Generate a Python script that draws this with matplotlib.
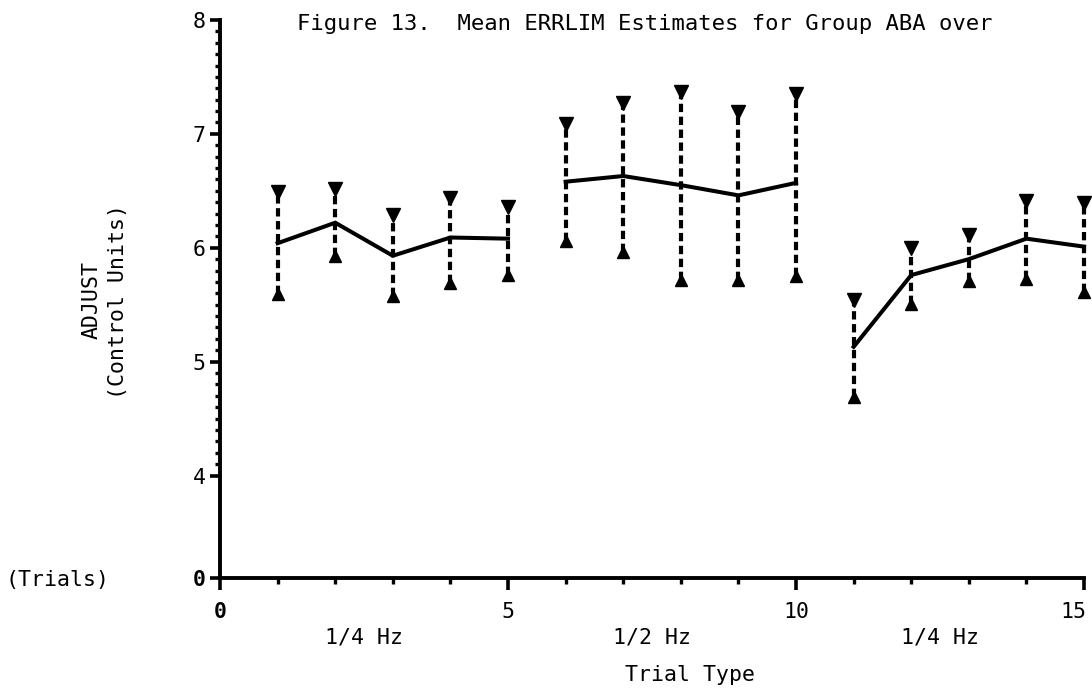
import numpy as np
import matplotlib
matplotlib.use("Agg")
import matplotlib.pyplot as plt
import matplotlib.transforms as mtransforms

# Mean ADJUST estimates per trial, with upper / lower limits of each bar
trials = np.arange(1, 16)
means = [6.04, 6.22, 5.93, 6.09, 6.08,
         6.58, 6.63, 6.55, 6.46, 6.57,
         5.13, 5.76, 5.90, 6.08, 6.01]
upper = [6.49, 6.52, 6.29, 6.44, 6.36,
         7.09, 7.27, 7.37, 7.19, 7.35,
         5.54, 6.00, 6.11, 6.41, 6.39]
lower = [5.59, 5.93, 5.58, 5.69, 5.76,
         6.06, 5.96, 5.72, 5.72, 5.75,
         4.69, 5.51, 5.71, 5.73, 5.61]

# trial blocks (first, last trial) and their frequency labels
blocks = [(1, 5), (6, 10), (11, 15)]
block_labels = ["1/4 Hz", "1/2 Hz", "1/4 Hz"]

y_ticks = [3.1, 4, 5, 6, 7, 8]
y_tick_labels = ["0", "4", "5", "6", "7", "8"]
x_ticks = [0, 5, 10, 15]
x_tick_labels = ["0", "5", "10", "15"]

FONT = "DejaVu Sans Mono"
plt.rcParams["font.family"] = FONT

fig = plt.figure(figsize=(10.92, 6.92), dpi=100)
ax = fig.add_axes([0.2015, 0.1647, 0.7912, 0.8064])

trials_arr = np.asarray(trials)
means_arr = np.asarray(means)

# dashed error bars with triangular caps
ax.vlines(trials_arr, lower, upper, colors="black", linewidth=3.0,
          linestyles=(0, (2.0, 1.1)), clip_on=False)
ax.plot(trials_arr, upper, linestyle="none", marker="v", ms=9.5,
        color="black", clip_on=False)
ax.plot(trials_arr, lower, linestyle="none", marker="^", ms=8.5,
        color="black", clip_on=False)

# mean line, broken between blocks
for first, last in blocks:
    sel = (trials_arr >= first) & (trials_arr <= last)
    ax.plot(trials_arr[sel], means_arr[sel], color="black", linewidth=2.9,
            solid_joinstyle="miter", clip_on=False)

ax.set_xlim(0, 15)
ax.set_ylim(3.1, 8)

ax.spines["top"].set_visible(False)
ax.spines["right"].set_visible(False)
for side in ("left", "bottom"):
    ax.spines[side].set_linewidth(2.8)

ax.set_yticks(y_ticks)
ax.set_yticklabels(y_tick_labels)
ax.set_yticks(np.arange(40, 81) / 10.0, minor=True)
ax.set_xticks(x_ticks)
ax.set_xticklabels(x_tick_labels)
ax.set_xticks(trials_arr, minor=True)

ax.tick_params(axis="y", which="major", direction="out", length=7.5,
               width=2.6, pad=3, labelsize=15.5)
ax.tick_params(axis="y", which="minor", direction="out", length=3.6,
               width=2.4)
ax.tick_params(axis="x", which="major", direction="out", length=8.5,
               width=2.6, pad=9, labelsize=15.5)
ax.tick_params(axis="x", which="minor", direction="out", length=4,
               width=2.4)

for lab in (ax.get_xticklabels()[0], ax.get_yticklabels()[0]):
    lab.set_fontweight("bold")

# keep the last x label inside the figure edge
last_lab = ax.get_xticklabels()[-1]
last_lab.set_transform(last_lab.get_transform() +
                       mtransforms.ScaledTranslation(-8 / 72, 0,
                                                     fig.dpi_scale_trans))

# block labels under the axis
trans = mtransforms.blended_transform_factory(ax.transData, ax.transAxes)
for (first, last), label in zip(blocks, block_labels):
    ax.text((first + last) / 2 - 0.5, -0.106, label, transform=trans,
            ha="center", va="center", fontsize=15.5)

fig.text(0.632, 0.0246, "Trial Type", ha="center", va="center", fontsize=15.5)
fig.text(0.005, 0.162, "(Trials)", ha="left", va="center", fontsize=15.5)
fig.text(0.084, 0.566, "ADJUST", rotation=90, ha="center", va="center",
         fontsize=15.5)
fig.text(0.108, 0.564, "(Control Units)", rotation=90, ha="center",
         va="center", fontsize=15.5)
fig.text(0.272, 0.966, "Figure 13.  Mean ERRLIM Estimates for Group ABA over",
         ha="left", va="center", fontsize=16)

fig.savefig("out.png", dpi=100)
